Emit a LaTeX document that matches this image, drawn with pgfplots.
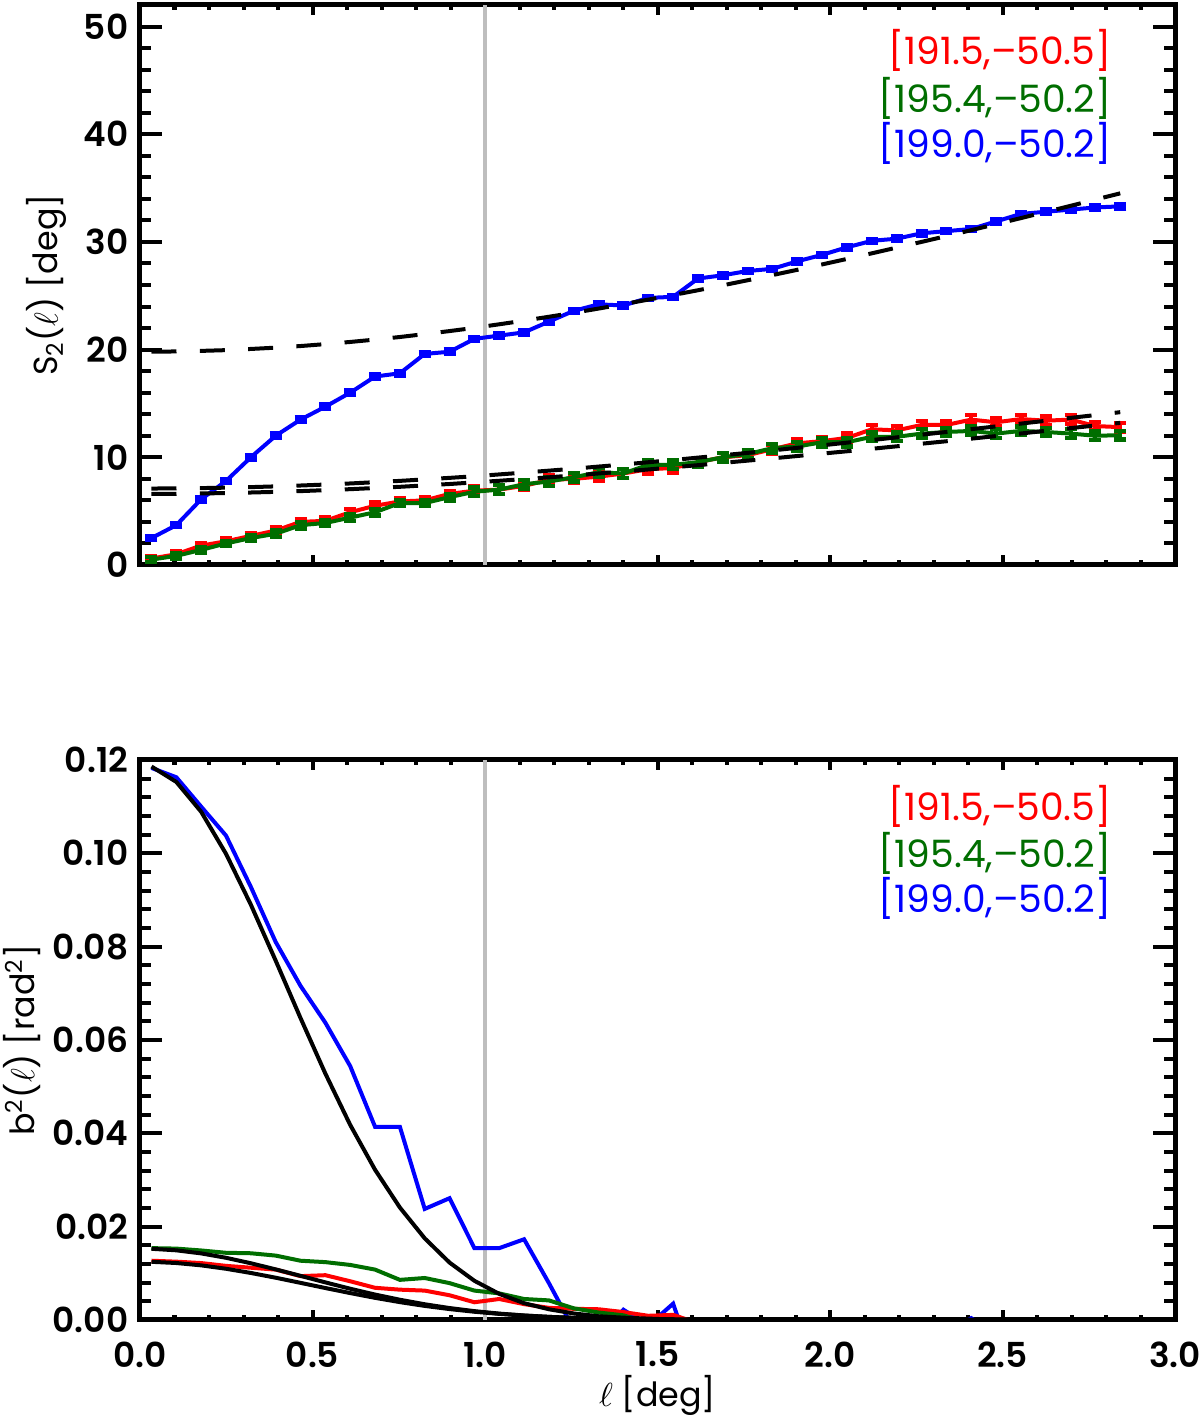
\documentclass[border=0pt]{standalone}
\usepackage{fontspec}
\setmainfont{Poppins}
\newfontfamily\tickfont{Poppins}[UprightFont={* SemiBold}]
\usepackage{pgfplots}
\usepackage{pgfplotstable}
\pgfplotsset{compat=1.18}
\definecolor{dgreen}{RGB}{0,110,0}
\definecolor{lgray}{RGB}{190,190,190}

\pgfplotstableread{
x b be r re g ge fb fa fc
0.0333 2.5 0.2 0.6 0.25 0.5 0.25 19.80 7.10 6.60
0.1053 3.7 0.2 1.0 0.25 0.85 0.25 19.83 7.11 6.61
0.1773 6.1 0.2 1.8 0.25 1.4 0.25 19.88 7.14 6.64
0.2493 7.8 0.2 2.2 0.25 2.0 0.25 19.95 7.18 6.68
0.3213 10.0 0.2 2.7 0.25 2.5 0.25 20.06 7.23 6.73
0.3933 12.0 0.2 3.2 0.3 2.9 0.3 20.18 7.30 6.79
0.4653 13.5 0.2 4.0 0.3 3.7 0.3 20.33 7.38 6.86
0.5373 14.7 0.2 4.1 0.3 3.9 0.3 20.51 7.47 6.95
0.6093 16.0 0.2 4.9 0.3 4.4 0.3 20.71 7.57 7.04
0.6813 17.5 0.2 5.5 0.3 4.9 0.3 20.93 7.69 7.15
0.7533 17.8 0.2 5.9 0.3 5.75 0.3 21.17 7.81 7.26
0.8253 19.6 0.2 6.0 0.3 5.75 0.3 21.44 7.95 7.39
0.8973 19.8 0.2 6.6 0.3 6.3 0.3 21.72 8.09 7.52
0.9693 21.0 0.2 6.9 0.4 6.8 0.4 22.02 8.24 7.67
1.0413 21.3 0.2 7.0 0.4 7.0 0.4 22.35 8.41 7.82
1.1133 21.6 0.2 7.35 0.4 7.5 0.4 22.69 8.58 7.98
1.1853 22.6 0.2 7.9 0.4 7.75 0.4 23.05 8.76 8.14
1.2573 23.6 0.2 8.0 0.4 8.15 0.4 23.42 8.94 8.32
1.3293 24.2 0.2 8.2 0.4 8.6 0.4 23.81 9.14 8.50
1.4013 24.1 0.2 8.5 0.4 8.5 0.4 24.22 9.33 8.68
1.4733 24.8 0.2 8.9 0.4 9.3 0.4 24.64 9.54 8.87
1.5453 24.9 0.2 9.0 0.4 9.3 0.4 25.07 9.75 9.07
1.6173 26.6 0.2 9.55 0.4 9.55 0.4 25.51 9.97 9.27
1.6893 26.9 0.2 10.0 0.4 10.0 0.4 25.97 10.19 9.48
1.7613 27.3 0.2 10.2 0.4 10.3 0.4 26.44 10.41 9.69
1.8333 27.5 0.2 10.75 0.4 10.85 0.4 26.92 10.64 9.90
1.9053 28.2 0.2 11.3 0.4 11.0 0.4 27.41 10.88 10.12
1.9773 28.8 0.2 11.5 0.4 11.4 0.4 27.91 11.11 10.34
2.0493 29.5 0.2 11.8 0.4 11.4 0.4 28.42 11.36 10.56
2.1213 30.1 0.2 12.6 0.4 11.9 0.4 28.94 11.60 10.79
2.1933 30.3 0.2 12.5 0.4 11.9 0.4 29.47 11.85 11.02
2.2653 30.8 0.2 13.0 0.4 12.2 0.4 30.00 12.10 11.26
2.3373 31.0 0.2 13.0 0.4 12.35 0.4 30.54 12.35 11.49
2.4093 31.2 0.2 13.5 0.4 12.45 0.4 31.09 12.61 11.73
2.4813 31.9 0.2 13.25 0.4 12.2 0.4 31.65 12.87 11.97
2.5533 32.6 0.2 13.55 0.4 12.45 0.4 32.21 13.13 12.21
2.6253 32.8 0.2 13.4 0.4 12.35 0.4 32.78 13.39 12.46
2.6973 33.0 0.2 13.5 0.4 12.2 0.4 33.35 13.66 12.71
2.7693 33.2 0.2 12.9 0.4 12.0 0.4 33.93 13.92 12.95
2.8413 33.3 0.2 12.8 0.4 12.05 0.4 34.51 14.19 13.20
}\topdata

\pgfplotstableread{
x b r g fb fr fg
0.0333 0.1183 0.0127 0.0154 0.1186 0.01247 0.01526
0.1053 0.1163 0.0125 0.0153 0.1153 0.01221 0.01493
0.1773 0.1100 0.0122 0.0149 0.1089 0.01171 0.01427
0.2493 0.1038 0.0116 0.0144 0.0999 0.01098 0.01333
0.3213 0.0928 0.0112 0.0143 0.0890 0.01008 0.01216
0.3933 0.0810 0.0108 0.0138 0.0770 0.00906 0.01085
0.4653 0.0716 0.0094 0.0127 0.0647 0.00796 0.00946
0.5373 0.0637 0.0096 0.0124 0.0528 0.00685 0.00806
0.6093 0.0544 0.0083 0.0118 0.0418 0.00577 0.00670
0.6813 0.0414 0.0069 0.0108 0.0322 0.00475 0.00545
0.7533 0.0414 0.0065 0.0086 0.0241 0.00383 0.00434
0.8253 0.0238 0.0063 0.0090 0.0175 0.00302 0.00337
0.8973 0.0261 0.0053 0.0079 0.0123 0.00234 0.00256
0.9693 0.0154 0.0038 0.0063 0.0084 0.00177 0.00190
1.0413 0.0154 0.0045 0.0057 0.0056 0.00131 0.00137
1.1133 0.0173 0.0034 0.0045 0.0036 0.00095 0.00097
1.1853 0.0079 0.0026 0.0042 0.0023 0.00067 0.00067
1.2573 -0.0020 0.0024 0.0025 0.0014 0.00046 0.00046
1.3293 -0.0039 0.0023 0.0016 0.0008 0.00031 0.00030
1.4013 0.0022 0.0017 0.0010 0.0005 0.00021 0.00019
1.4733 -0.0012 0.0009 -0.0006 0.0003 0.00014 0.00012
1.5453 0.0035 0.0011 -0.0020 0.0001 0.00009 0.00008
1.6173 -0.0120 -0.0007 -0.0020 0.00005 0.00005 0.00005
1.6893 -0.0100 -0.0020 -0.0020 0.00002 0.00003 0.00003
1.7613 -0.0100 -0.0020 -0.0020 0.00001 0.00002 0.00002
1.8333 -0.0100 -0.0020 -0.0020 0.0 0.00001 0.00001
1.9053 -0.0100 -0.0020 -0.0020 0.0 0.0 0.0
1.9773 -0.0100 -0.0020 -0.0020 0.0 0.0 0.0
2.0493 -0.0100 -0.0020 -0.0020 0.0 0.0 0.0
2.1213 -0.0100 -0.0020 -0.0020 0.0 0.0 0.0
2.1933 -0.0100 -0.0020 -0.0020 0.0 0.0 0.0
2.2653 -0.0100 -0.0020 -0.0020 0.0 0.0 0.0
2.3373 -0.0030 -0.0020 -0.0020 0.0 0.0 0.0
2.4093 0.0004 -0.0020 -0.0020 0.0 0.0 0.0
2.4813 -0.0030 -0.0020 -0.0020 0.0 0.0 0.0
2.5533 -0.0100 -0.0020 -0.0020 0.0 0.0 0.0
2.6253 -0.0100 -0.0020 -0.0020 0.0 0.0 0.0
2.6973 -0.0100 -0.0020 -0.0020 0.0 0.0 0.0
2.7693 -0.0100 -0.0020 -0.0020 0.0 0.0 0.0
2.8413 -0.0100 -0.0020 -0.0020 0.0 0.0 0.0
}\botdata

\pgfplotsset{
  common/.style={
    scale only axis, width=310.5pt, height=168pt,
    xmin=0, xmax=3,
    axis line style={line width=1.5pt},
    tick align=inside,
    tick style={line width=1.2pt, black},
    xtick={0,0.5,1,1.5,2,2.5,3}, minor x tick num=4,
    minor y tick num=4,
    xtick style={/pgfplots/major tick length=3pt, /pgfplots/minor tick length=1.6pt},
    ytick style={/pgfplots/major tick length=6.6pt, /pgfplots/minor tick length=3.3pt},
    /pgf/number format/assume math mode=true,
    tick label style={font=\tickfont\fontsize{10.3}{12}\selectfont},
    label style={font=\fontsize{10}{12}\selectfont},
  },
  errb/.style={line width=1.2pt, #1, mark=none,
    error bars/.cd, y dir=both, y explicit,
    error bar style={line width=1.2pt, #1},
    error mark options={rotate=90, mark size=1.8pt, line width=1.3pt, #1}},
  fitd/.style={black, line width=1.2pt, dash pattern=on 7.5pt off 7pt},
}
\tikzset{leg/.style={anchor=east, font=\fontsize{11.3}{13}\selectfont}}

\begin{document}
\begin{tikzpicture}
\path[use as bounding box] (0,0) rectangle (360pt,425.4pt);

\begin{axis}[common,
  at={(42pt,255.9pt)}, anchor=south west,
  ymin=0, ymax=52,
  ytick={0,10,20,30,40,50},
  xticklabels={},
  ylabel={S\textsubscript{2}($\ell$) [deg]},
  every axis y label/.style={at={(axis description cs:-0.09,0.5)}, rotate=90, anchor=center},
]
\addplot[lgray, line width=1.2pt] coordinates {(1,0) (1,52)};
\addplot[errb=blue] table[x=x, y=b, y error=be] {\topdata};
\addplot[errb=red] table[x=x, y=r, y error=re] {\topdata};
\addplot[errb=dgreen] table[x=x, y=g, y error=ge] {\topdata};
\addplot[fitd] table[x=x, y=fb] {\topdata};
\addplot[fitd] table[x=x, y=fa] {\topdata};
\addplot[fitd] table[x=x, y=fc] {\topdata};
\node[leg, red] at (rel axis cs:0.950,0.918) {[191.5,–50.5]};
\node[leg, dgreen] at (rel axis cs:0.950,0.834) {[195.4,–50.2]};
\node[leg, blue] at (rel axis cs:0.950,0.753) {[199.0,–50.2]};
\end{axis}

\begin{axis}[common,
  at={(42pt,29.4pt)}, anchor=south west,
  ymin=0, ymax=0.12,
  ytick={0,0.02,0.04,0.06,0.08,0.10,0.12},
  yticklabel style={/pgf/number format/.cd, fixed, fixed zerofill, precision=2},
  xticklabel style={yshift=-3pt, /pgf/number format/.cd, fixed, fixed zerofill, precision=1},
  scaled y ticks=false,
  ylabel={b\textsuperscript{2}($\ell$) [rad\textsuperscript{2}]},
  every axis y label/.style={at={(axis description cs:-0.114,0.5)}, rotate=90, anchor=center},
  xlabel={$\ell$ [deg]},
  every axis x label/.style={at={(axis description cs:0.5,-0.134)}, anchor=center},
]
\addplot[lgray, line width=1.2pt] coordinates {(1,0) (1,0.12)};
\addplot[blue, line width=1.2pt] table[x=x, y=b] {\botdata};
\addplot[red, line width=1.2pt] table[x=x, y=r] {\botdata};
\addplot[dgreen, line width=1.2pt] table[x=x, y=g] {\botdata};
\addplot[black, line width=1.2pt] table[x=x, y=fb] {\botdata};
\addplot[black, line width=1.2pt] table[x=x, y=fr] {\botdata};
\addplot[black, line width=1.2pt] table[x=x, y=fg] {\botdata};
\node[leg, red] at (rel axis cs:0.950,0.918) {[191.5,–50.5]};
\node[leg, dgreen] at (rel axis cs:0.950,0.834) {[195.4,–50.2]};
\node[leg, blue] at (rel axis cs:0.950,0.753) {[199.0,–50.2]};
\end{axis}
\end{tikzpicture}
\end{document}
